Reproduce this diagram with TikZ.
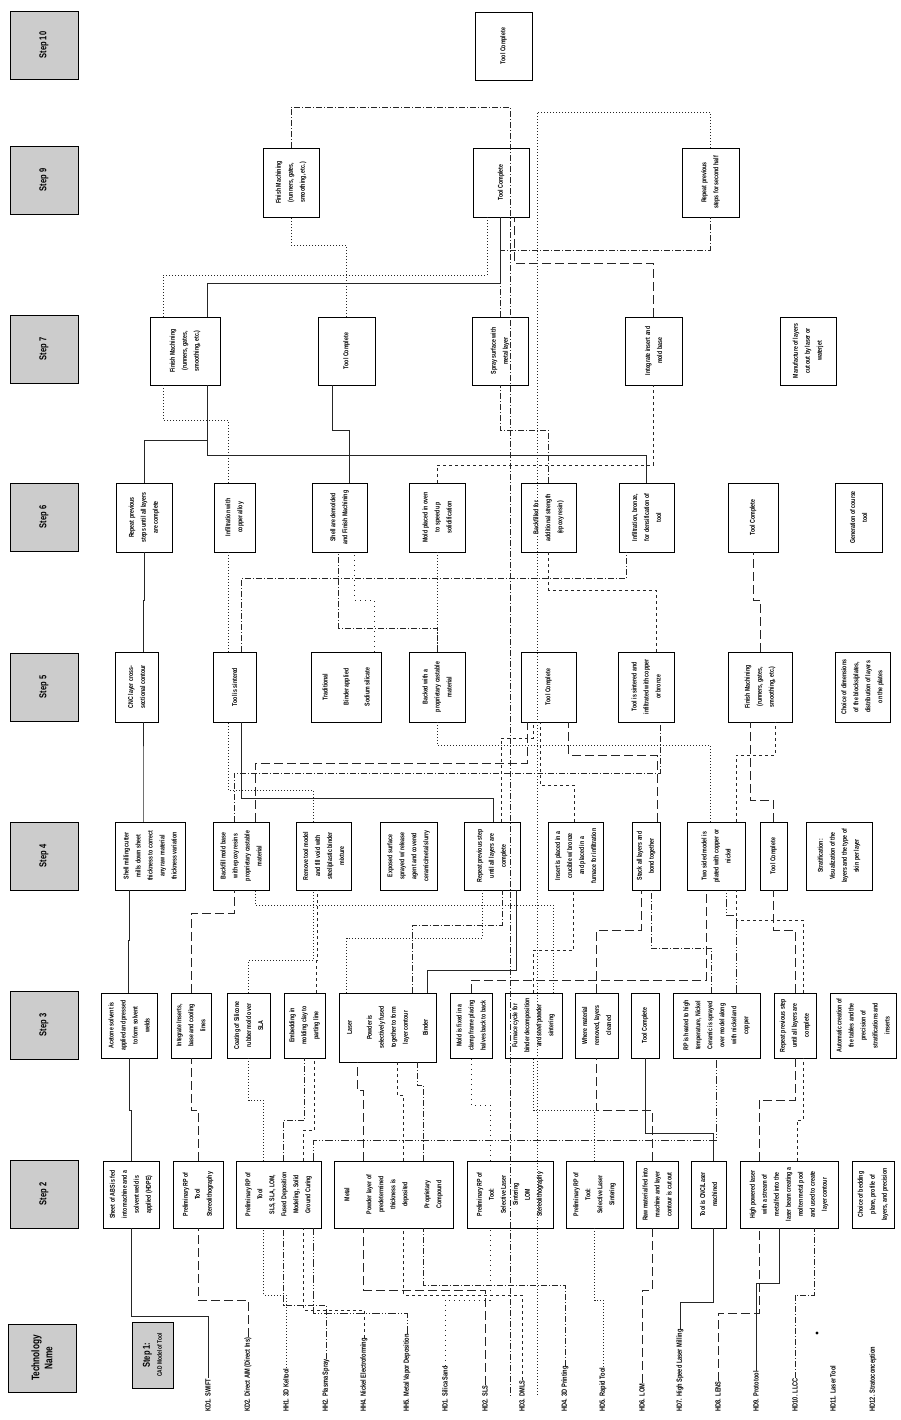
\documentclass[tikz,border=0pt]{standalone}
\usepackage{fontspec}
\setmainfont{Liberation Sans}[FakeStretch=0.75]
\usetikzlibrary{calc}
\newcommand{\rt}[2]{\rotatebox{90}{\parbox{#1pt}{\centering\bfseries\fontsize{7}{12}\selectfont #2}}}
\newcommand{\bx}[6]{\node[bx, minimum width={#3-#2}, minimum height={#5-#4}] (#1) at ({(#2+#3)/2},{(#4+#5)/2}) {\rt{\the\numexpr#5-#4-4\relax}{#6}};}
\newcommand{\lnk}[4][]{\draw[#1] (#2) let \p1=(#2), \p2=(#3) in -- (\x1,-#4pt) -- (\x2,-#4pt) -- (#3);}
\tikzset{
 bx/.style={draw, line width=0.8pt, fill=white, inner sep=0pt},
 hdr/.style={draw, line width=0.9pt, fill=gray!40, minimum width=68, minimum height=68, inner sep=0pt, font=\bfseries\fontsize{10}{11}\selectfont},
 tl/.style={rotate=90, anchor=west, inner sep=0.5pt, font=\bfseries\fontsize{7.5}{8}\selectfont},
 cn/.style={line width=0.6pt, black!85},
 c1/.style={cn},
 c2/.style={cn, dash pattern=on 9pt off 4pt},
 c3/.style={cn, dash pattern=on 6pt off 2pt on 1pt off 2pt},
 c4/.style={cn, dash pattern=on 1pt off 2pt},
 c5/.style={cn, dash pattern=on 3pt off 3pt},
 c6/.style={cn, dash pattern=on 8pt off 2pt on 1pt off 2pt on 1pt off 2pt},
 c7/.style={cn, dash pattern=on 1pt off 4pt}
}
\begin{document}
\begin{tikzpicture}[x=1pt,y=-1pt]
\useasboundingbox (0,0) rectangle (901,1420);
% headers
\node[hdr] (hA) at (44,45) {\rotatebox{90}{Step 10}};
\node[hdr] (hB) at (44,180) {\rotatebox{90}{Step 9}};
\node[hdr] (hC) at (44,349) {\rotatebox{90}{Step 7}};
\node[hdr] (hD) at (44,517) {\rotatebox{90}{Step 6}};
\node[hdr] (hE) at (44,687) {\rotatebox{90}{Step 5}};
\node[hdr] (hF) at (44,856) {\rotatebox{90}{Step 4}};
\node[hdr] (hG) at (44,1025) {\rotatebox{90}{Step 3}};
\node[hdr] (hH) at (44,1194) {\rotatebox{90}{Step 2}};
\node[hdr, font=\bfseries\fontsize{11}{13}\selectfont] (hT) at (42,1358) {\rotatebox{90}{\parbox{62pt}{\centering Technology\\Name}}};
\node[hdr, minimum width=41, minimum height=66] (hS) at (152.5,1355) {\rotatebox{90}{\parbox{60pt}{\centering Step 1:\\[1pt]{\fontsize{6.5}{7}\selectfont CAD Model of Tool}}}};
% step 2
\bx{a2}{103}{159}{1161}{1228}{Sheet of ABS is fed\\into machine and a\\solvent weld is\\applied (HDPE)}
\bx{b2}{173}{223}{1161}{1228}{Preliminary RP of\\Tool\\Stereolithography}
\bx{c2}{236}{321}{1161}{1228}{Preliminary RP of\\Tool\\SLS, SLA, LOM,\\Fused Deposition\\Modeling, Solid\\Ground Curing}
\bx{d2}{334}{453}{1161}{1228}{Metal\\[10pt]Powder layer of\\predetermined\\thickness is\\deposited\\[10pt]Proprietary\\Compound}
\bx{e2}{467}{553}{1161}{1228}{Preliminary RP of\\Tool:\\Selective Laser\\Sintering\\LOM\\Stereolithography}
\bx{f2}{566}{623}{1161}{1228}{Preliminary RP of\\Tool:\\Selective Laser\\Sintering}
\bx{g2}{636}{678}{1161}{1228}{Raw material fed into\\machine and layer\\contour is cut out}
\bx{hh2}{691}{726}{1161}{1228}{Tool is CNC/Laser\\machined}
\bx{i2}{740}{838}{1161}{1228}{High powered laser\\with a stream of\\metal fed into the\\laser beam creating a\\molten metal pool\\and used to create\\layer contour}
\bx{j2}{852}{894}{1161}{1228}{Choice of bedding\\plane, profile of\\layers, and precision}
% step 3
\bx{a3}{101}{157}{993}{1058}{Acetone solvent is\\applied and pressed\\to form solvent\\welds}
\bx{b3}{171}{211}{993}{1058}{Integrate Inserts,\\base and cooling\\lines}
\bx{c3}{227}{270}{993}{1058}{Coating of Silicone\\rubber mold over\\SLA}
\bx{d3}{284}{325}{993}{1058}{Embedding in\\molding clay to\\parting line}
\bx{e3}{339}{436}{993}{1062}{Laser\\[8pt]Powder is\\selectively fused\\together to form\\layer contour\\[8pt]Binder}
\bx{f3}{450}{492}{993}{1058}{Mold is fixed in a\\clamp frame placing\\halves back to back}
\bx{g3}{505}{562}{993}{1058}{Furnace cycle for\\binder decomposition\\and steel powder\\sintering}
\bx{h3}{575}{618}{993}{1058}{Where material\\removed, layers\\cleaned}
\bx{i3}{631}{659}{993}{1058}{Tool Complete}
\bx{j3}{673}{760}{993}{1058}{RP is heated to high\\temperature, Nickel\\Ceramic is sprayed\\over model along\\with nickel and\\copper}
\bx{k3}{774}{816}{993}{1058}{Repeat previous step\\until all layers are\\complete}
\bx{l3}{830}{896}{993}{1058}{Automatic creation of\\the tables and the\\precision of\\stratifications and\\inserts}
% step 4
\bx{a4}{115}{185}{822}{890}{Shell milling cutter\\mills down sheet\\thickness to correct\\any raw material\\thickness variation}
\bx{b4}{213}{269}{822}{890}{Backfill mold base\\with epoxy resins\\proprietary castable\\material}
\bx{c4}{296}{351}{822}{890}{Remove tool model\\and fill void with\\steel/plastic binder\\mixture}
\bx{d4}{380}{437}{822}{890}{Exposed surface\\sprayed w/ release\\agent and covered\\ceramic/metal slurry}
\bx{e4}{464}{520}{822}{890}{Repeat previous step\\until all layers are\\complete}
\bx{f4}{548}{603}{822}{890}{Insert is placed in a\\crucible w/ bronze\\and placed in a\\furnace for infiltration}
\bx{g4}{632}{660}{822}{890}{Stack all layers and\\bond together}
\bx{h4}{687}{745}{822}{890}{Two sided model is\\plated with copper or\\nickel}
\bx{i4}{760}{787}{822}{890}{Tool Complete}
\bx{j4}{806}{872}{822}{890}{Stratification:\\Visualization of the\\layers and the type of\\skin per layer}
% step 5
\bx{a5}{115}{158}{652}{722}{CNC layer cross-\\sectional contour}
\bx{b5}{213}{256}{652}{722}{Tool is sintered}
\bx{c5}{311}{381}{652}{722}{Traditional\\[9pt]Binder applied\\[9pt]Sodium silicate}
\bx{d5}{409}{465}{652}{722}{Backed with a\\proprietary castable\\material}
\bx{e5}{521}{576}{652}{722}{Tool Complete}
\bx{f5}{618}{674}{652}{722}{Tool is sintered and\\infiltrated with copper\\or bronze}
\bx{g5}{728}{792}{652}{722}{Finish Machining\\(runners, gates,\\smoothing, etc.)}
\bx{h5}{835}{890}{652}{722}{Choice of dimensions\\of the blocks/plates,\\distribution of layers\\on the plates}
% step 6
\bx{a6}{116}{172}{483}{552}{Repeat previous\\steps until all layers\\are complete}
\bx{b6}{214}{255}{483}{552}{Infiltration with\\copper alloy}
\bx{c6}{312}{367}{483}{552}{Shell are demolded\\and Finish Machining}
\bx{d6}{409}{465}{483}{552}{Mold placed in oven\\to speed up\\solidification}
\bx{e6}{521}{576}{483}{552}{Backfilled for\\additional strength\\(epoxy resin)}
\bx{f6}{619}{674}{483}{552}{Infiltration, bronze,\\for densification of\\tool}
\bx{g6}{728}{778}{483}{552}{Tool Complete}
\bx{h6}{835}{882}{483}{552}{Generation of course\\tool}
% step 7
\bx{a7}{150}{220}{317}{385}{Finish Machining\\(runners, gates,\\smoothing, etc.)}
\bx{b7}{318}{375}{317}{385}{Tool Complete}
\bx{c7}{472}{528}{317}{385}{Spray surface with\\metal layer}
\bx{d7}{625}{682}{317}{385}{Integrate insert and\\mold base}
\bx{e7}{780}{836}{317}{385}{Manufacture of layers\\cut out by laser or\\waterjet}
% step 8
\bx{a8}{263}{319}{148}{217}{Finish Machining\\(runners, gates,\\smoothing, etc.)}
\bx{b8}{473}{529}{148}{217}{Tool Complete}
\bx{c8}{682}{739}{148}{217}{Repeat previous\\steps for second half}
% top
\bx{t9}{475}{532}{12}{80}{Tool Complete}
% technology labels
\node[tl] (t1) at (208,1412) {KD1. SWIFT};
\node[tl] (t2) at (248,1412) {KD2. Direct AIM (Direct Ins)};
\node[tl] (t3) at (286,1412) {HH1. 3D Keltool};
\node[tl] (t4) at (326,1412) {HH2. Plasma Spray};
\node[tl] (t5) at (364,1412) {HH4. Nickel Electroforming};
\node[tl] (t6) at (407,1412) {HH5. Metal Vapor Deposition};
\node[tl] (t7) at (445,1412) {HD1. Silica Sand};
\node[tl] (t8) at (485,1412) {HD2. SLS};
\node[tl] (t9) at (522,1412) {HD3. DMLS};
\node[tl] (t10) at (565,1412) {HD4. 3D Printing};
\node[tl] (t11) at (603,1412) {HD5. Rapid Tool};
\node[tl] (t12) at (642,1412) {HD6. LOM};
\node[tl] (t13) at (680,1412) {HD7. High Speed Laser Milling};
\node[tl] (t14) at (718,1412) {HD8. LENS};
\node[tl] (t15) at (756,1412) {HD9. Prototool};
\node[tl] (t16) at (795,1412) {HD10. LLCC};
\node[tl] (t17) at (833,1412) {HD11. Laser Tool};
\node[tl] (t18) at (873,1412) {HD12. Stratoconception};
\fill (817,1333) circle (1.6pt);
% ---- labels to step 2
\lnk[c1]{t1.east}{a2.south}{1316}
\lnk[c2]{t2.east}{b2.south}{1300}
\lnk[c4]{t3.east}{[xshift=-15pt]c2.south}{1295}
\lnk[c3]{t4.east}{[xshift=5pt]c2.south}{1305}
\lnk[c5]{t5.east}{[xshift=25pt]c2.south}{1310}
\lnk[c6]{t6.east}{[xshift=35pt]c2.south}{1313}
\lnk[c7]{t7.east}{[xshift=-20pt]e2.south}{1300}
\lnk[c2]{t8.east}{[xshift=-30pt]d2.south}{1290}
\lnk[c5]{t9.east}{[xshift=10pt]d2.south}{1295}
\lnk[c3]{t10.east}{[xshift=30pt]d2.south}{1285}
\lnk[c4]{t11.east}{f2.south}{1300}
\lnk[c2]{t12.east}{[xshift=-5pt]g2.south}{1290}
\lnk[c1]{t13.east}{[xshift=5pt]hh2.south}{1302}
\lnk[c2]{t14.east}{[xshift=-30pt]i2.south}{1313}
\lnk[c1]{t15.east}{[xshift=-10pt]i2.south}{1283}
\lnk[c3]{t16.east}{[xshift=25pt]i2.south}{1295}
% ---- step 2 to step 3
\lnk[c1]{a2.north}{a3.south}{1110}
\lnk[c2]{b2.north}{b3.south}{1110}
\lnk[c4]{[xshift=-15pt]c2.north}{c3.south}{1100}
\lnk[c3]{[xshift=5pt]c2.north}{d3.south}{1120}
\lnk[c5]{[xshift=25pt]c2.north}{[xshift=10pt]d3.south}{1130}
\lnk[c6]{[xshift=35pt]c2.north}{j3.south}{1140}
\lnk[c7]{[xshift=-20pt]e2.north}{f3.south}{1105}
\lnk[c2]{[xshift=-30pt]d2.north}{[xshift=-30pt]e3.south}{1090}
\lnk[c5]{[xshift=10pt]d2.north}{[xshift=10pt]e3.south}{1095}
\lnk[c3]{[xshift=30pt]d2.north}{[xshift=30pt]e3.south}{1085}
\lnk[c4]{f2.north}{g3.south}{1110}
\lnk[c2]{[xshift=-5pt]g2.north}{h3.south}{1110}
\lnk[c1]{[xshift=5pt]hh2.north}{i3.south}{1133}
\lnk[c2]{[xshift=-30pt]i2.north}{k3.south}{1100}
\lnk[c5]{[xshift=8pt]i2.north}{[xshift=8pt]k3.south}{1120}
% ---- step 3 to step 4
\lnk[c1]{[xshift=-0.5pt]a3.north}{[xshift=-21pt]a4.south}{940}
\lnk[c2]{b3.north}{[xshift=-7pt]b4.south}{913}
\lnk[c4]{c3.north}{[xshift=-10pt]c4.south}{960}
\lnk[c5]{[xshift=12pt]d3.north}{[xshift=-6.5pt]c4.south}{960}
\lnk[c4]{[xshift=-41pt]e3.north}{[xshift=-10pt]e4.south}{938}
\lnk[c1]{[xshift=40pt]e3.north}{[xshift=24pt]e4.south}{970}
\lnk[c3]{[xshift=25pt]e3.north}{[xshift=10pt]e4.south}{925}
\lnk[c2]{f3.north}{[xshift=-10pt]h4.south}{980}
\lnk[c5]{g3.north}{[xshift=-2pt]f4.south}{950}
\lnk[c4]{[xshift=20pt]g3.north}{[xshift=14pt]b4.south}{905}
\lnk[c3]{[xshift=-5pt]j3.north}{[xshift=5pt]g4.south}{948}
\lnk[c2]{h3.north}{[xshift=-5pt]g4.south}{930}
\lnk[c6]{[xshift=20pt]j3.north}{[xshift=10pt]h4.south}{915}
\lnk[c2]{k3.north}{i4.south}{930}
\lnk[c5]{[xshift=8pt]k3.north}{[xshift=20pt]h4.south}{920}
% ---- step 4 to step 5
\lnk[c1]{[xshift=-7pt]a4.north}{[xshift=6.5pt]a5.south}{770}
\lnk[c2]{[xshift=14pt]b4.north}{[xshift=-21pt]e5.south}{763}
\lnk[c3]{[xshift=-7pt]b4.north}{[xshift=14pt]f5.south}{773}
\lnk[c4]{[xshift=-10pt]c4.north}{[xshift=-6pt]b5.south}{790}
\lnk[c1]{[xshift=1pt]e4.north}{[xshift=7pt]b5.south}{798}
\lnk[c5]{[xshift=9pt]e4.north}{[xshift=-15pt]e5.south}{738}
\lnk[c5]{[xshift=-1pt]f4.north}{[xshift=-8pt]e5.south}{785}
\lnk[c2]{[xshift=11pt]g4.north}{[xshift=20pt]e5.south}{755}
\lnk[c4]{[xshift=-6pt]h4.north}{[xshift=-0pt]d5.south}{745}
\lnk[c5]{[xshift=20pt]h4.north}{[xshift=15pt]g5.south}{755}
\lnk[c2]{i4.north}{[xshift=-10pt]g5.south}{800}
% ---- step 5 to step 6
\lnk[c1]{[xshift=7pt]a5.north}{a6.south}{600}
\lnk[c4]{[xshift=-6pt]b5.north}{[xshift=-6pt]b6.south}{610}
\lnk[c3]{[xshift=7pt]b5.north}{[xshift=-20pt]f6.south}{578}
\lnk[c3]{[xshift=0pt]d5.north}{[xshift=-1pt]c6.south}{628}
\lnk[c4]{d5.north}{d6.south}{600}
\lnk[c7]{[xshift=28pt]c5.north}{[xshift=15pt]c6.south}{600}
\lnk[c5]{[xshift=10pt]f5.north}{e6.south}{590}
\lnk[c2]{g5.north}{g6.south}{600}
% ---- step 6 to step 7
\lnk[c1]{a6.north}{[xshift=22pt]a7.south}{440}
\lnk[c4]{[xshift=-6pt]b6.north}{[xshift=-22pt]a7.south}{420}
\lnk[c1]{f6.north}{[xshift=22pt]a7.south}{455}
\lnk[c1]{[xshift=10pt]c6.north}{[xshift=-14pt]b7.south}{430}
\lnk[c5]{d6.north}{d7.south}{465}
\lnk[c3]{e6.north}{c7.south}{430}
% ---- step 7 and above
\lnk[c1]{[xshift=22pt]a7.north}{[xshift=-1pt]b8.south}{283}
\lnk[c4]{[xshift=-22pt]a7.north}{[xshift=-14pt]b8.south}{275}
\lnk[c2]{d7.north}{[xshift=13pt]b8.south}{263}
\lnk[c3]{c7.north}{c8.south}{250}
\lnk[c4]{b7.north}{a8.south}{245}
\lnk[c3]{a8.north}{[xshift=-15pt]t9.south}{107}
\lnk[c4]{c8.north}{[xshift=12pt]t9.south}{112}
\end{tikzpicture}
\end{document}
